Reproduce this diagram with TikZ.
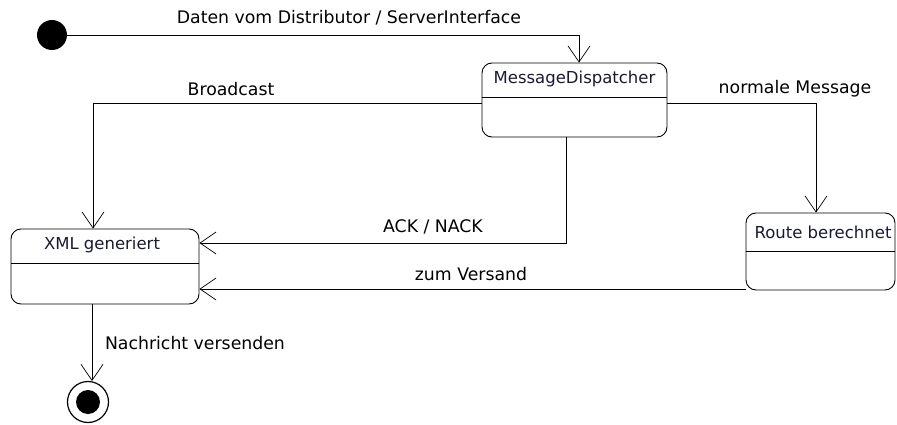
\documentclass[tikz,border=0pt]{standalone}
\usepackage{fontspec}
\setmainfont{DejaVu Sans}
\usetikzlibrary{arrows.meta}
\begin{document}
\begin{tikzpicture}[x=1pt,y=-1pt,
  every node/.style={font=\fontsize{17.3}{19}\selectfont},
  statebox/.style={draw,line width=0.9pt,rounded corners=10pt,inner sep=0pt},
  conn/.style={line width=0.8pt,-{Straight Barb[length=16pt,width=22pt,line width=0.7pt]}},
  lbl/.style={inner sep=0pt,text=black},
  sname/.style={inner sep=0pt,text={rgb,255:red,25;green,25;blue,50},font=\fontsize{16.5}{18}\selectfont}]
\useasboundingbox (0,0) rectangle (897,425);
% start
\node[circle,fill=black,minimum size=30pt,inner sep=0pt] (start) at (52,35) {};
% states
\node[statebox,minimum width=185pt,minimum height=74pt] (md) at (574.5,100) {};
\draw[line width=0.9pt] (482,97) -- (667,97);
\node[sname] (mdt) at (574.5,79) {MessageDispatcher};
\node[statebox,minimum width=149pt,minimum height=77pt] (rt) at (820.5,251.5) {};
\draw[line width=0.9pt] (746,251) -- (895,251);
\node[sname] (rtt) at (823,232) {Route berechnet};
\node[statebox,minimum width=188pt,minimum height=75pt] (xml) at (105,266.5) {};
\draw[line width=0.9pt] (11,263) -- (199,263);
\node[sname] (xmlt) at (102,245) {XML generiert};
% final
\node[circle,draw,line width=1.2pt,minimum size=41pt,inner sep=0pt] (fin) at (88,402) {};
\node[circle,fill=black,minimum size=24pt,inner sep=0pt] (finin) at (88,402) {};
% coordinates
\coordinate (c1) at (579,35);
\coordinate (c2) at (93,103);
\coordinate (c3) at (816,103);
\coordinate (c4) at (566,243);
% connectors
\draw[conn] (start.east) -- (c1) -- (c1 |- md.north);
\draw[conn] (md.west |- c2) -- (c2) -- (c2 |- xml.north);
\draw[conn] (md.east |- c3) -- (c3) -- (c3 |- rt.north);
\draw[conn] (c4 |- md.south) -- (c4) -- (xml.east |- c4);
\draw[conn] (rt.west |- 0,289) -- (xml.east |- 0,289);
\draw[conn] (92,304) -- (92,381);
% labels
\node[lbl] (l1) at (349,18) {Daten vom Distributor / ServerInterface};
\node[lbl] (l2) at (231,89) {Broadcast};
\node[lbl] (l3) at (795,89) {normale Message};
\node[lbl] (l4) at (433,227) {ACK / NACK};
\node[lbl] (l5) at (471,274) {zum Versand};
\node[lbl] (l6) at (195,343) {Nachricht versenden};
\end{tikzpicture}
\end{document}
